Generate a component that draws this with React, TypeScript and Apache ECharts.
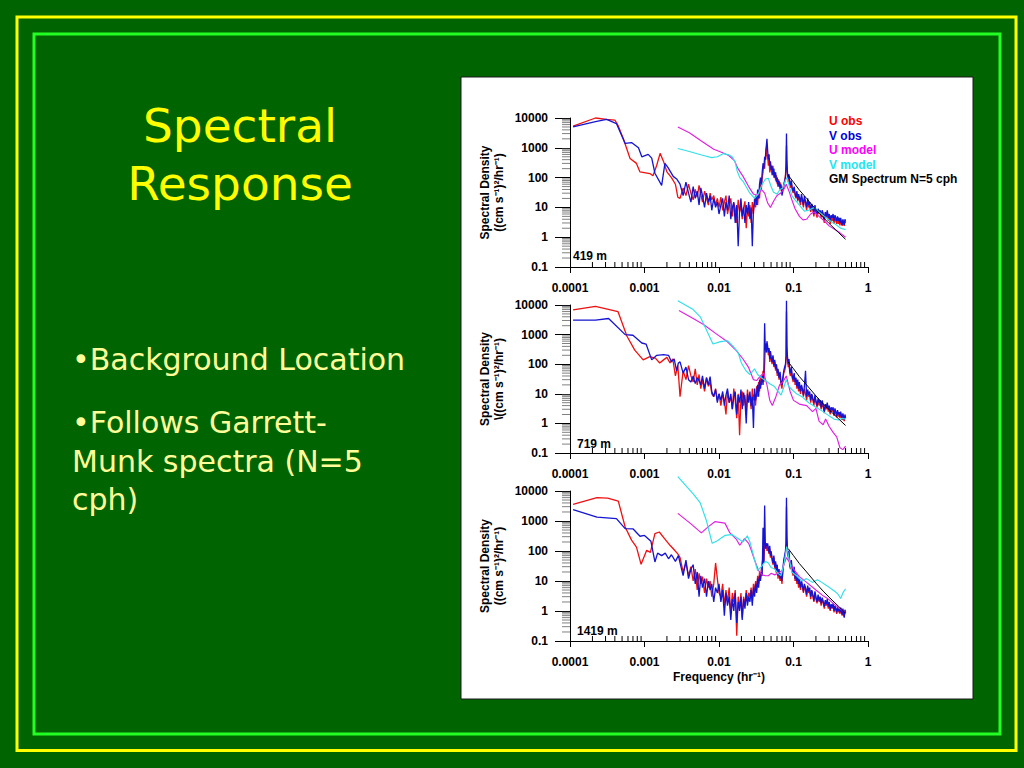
import React, { useEffect, useRef } from "react";
import * as echarts from "echarts";

// ---------- tick labels ----------
const X_TICK_LABELS = ["0.0001", "0.001", "0.01", "0.1", "1"]; // exponents -4..0
const Y_TICK_LABELS = ["0.1", "1", "10", "100", "1000", "10000"]; // exponents -1..4
const MINOR_MANTISSA = [2, 3, 4, 5, 6, 7, 8, 9];
const X_DECADES = [0.0001, 0.001, 0.01, 0.1];
const Y_DECADES = [0.1, 1, 10, 100, 1000];

const DEPTHS = ["419 m", "719 m", "1419 m"];
const NAMES = ["U obs", "V obs", "U model", "V model", "GM Spectrum N=5 cph"];
const COLORS = ["#f01010", "#1414d2", "#e020e0", "#30e0e8", "#000000"];
const LEGEND_COLORS = ["#ff0000", "#0000dd", "#ff00ff", "#22e6f0", "#000000"];

// ---------- frequencies of the dense part of the observed spectra (cph) ----------
const FREQ_HI = [
  0.0030, 0.0033, 0.0036, 0.0039, 0.0042, 0.0045, 0.0048, 0.0051, 0.0054, 0.0057, 0.0060, 0.0064, 0.0068, 0.0072, 0.0076, 0.0080, 0.0085, 0.0090, 0.0095, 0.0100,
  0.0106, 0.0112, 0.0118, 0.0124, 0.0130, 0.0137, 0.0144, 0.0151, 0.0158, 0.0165, 0.0173, 0.0181, 0.0189, 0.0197, 0.0205, 0.0214, 0.0223, 0.0232, 0.0241, 0.0250,
  0.0260, 0.0270, 0.0280, 0.0290, 0.0300, 0.0310, 0.0320, 0.0330, 0.0340, 0.0350, 0.0360, 0.0370, 0.0380, 0.0390, 0.0400, 0.0410, 0.0418, 0.0425, 0.0432, 0.0440,
  0.0450, 0.0460, 0.0470, 0.0480, 0.0490, 0.0500, 0.0515, 0.0530, 0.0545, 0.0560, 0.0575, 0.0590, 0.0605, 0.0620, 0.0640, 0.0660, 0.0680, 0.0700, 0.0720, 0.0740,
  0.0760, 0.0780, 0.0795, 0.0805, 0.0815, 0.0830, 0.0850, 0.0870, 0.0890, 0.0910, 0.0935, 0.0960, 0.0990, 0.1020, 0.1050, 0.1080, 0.1110, 0.1140, 0.1170, 0.1200,
  0.124, 0.128, 0.132, 0.136, 0.140, 0.145, 0.150, 0.155, 0.160, 0.165, 0.170, 0.176, 0.182, 0.188, 0.194, 0.200, 0.207, 0.214, 0.221, 0.228,
  0.235, 0.243, 0.251, 0.259, 0.267, 0.275, 0.284, 0.293, 0.302, 0.311, 0.320, 0.330, 0.340, 0.350, 0.360, 0.370, 0.380, 0.390, 0.400, 0.410,
  0.420, 0.430, 0.440, 0.450, 0.460, 0.470, 0.480, 0.490, 0.500,
];

// ---------- panel 1 (419 m) ----------
const P1_U_LOW = [[1.1e-4, 5300], [2.2e-4, 10000], [3.1e-4, 9000], [4.0e-4, 8500], [4.4e-4, 5700], [5.2e-4, 2000], [6.4e-4, 440], [7.8e-4, 300], [8.7e-4, 155], [1.18e-3, 137], [1.3e-3, 115], [1.46e-3, 260], [1.62e-3, 650], [1.8e-3, 350], [2.0e-3, 155], [2.3e-3, 100], [2.6e-3, 60], [2.8e-3, 22]];
const P1_U_HI = [
  20, 45, 25, 60, 30, 18, 40, 22, 55, 28, 15, 35, 20, 12, 30, 18, 25, 12, 20, 10,
  22, 8, 15, 25, 6, 12, 20, 5, 14, 9, 3, 18, 7, 12, 4, 10, 16, 2, 9, 5,
  12, 3, 15, 6, 20, 10, 25, 12, 35, 20, 60, 40, 100, 150, 300, 200, 500, 400, 1000, 600,
  500, 250, 400, 150, 300, 200, 120, 250, 100, 150, 80, 120, 60, 90, 50, 70, 40, 30, 45, 60,
  80, 120, 300, 1200, 250, 120, 70, 110, 60, 45, 70, 40, 30, 45, 25, 20, 30, 16, 24, 18,
  12, 22, 15, 10, 20, 14, 8, 16, 10, 12, 7, 11, 8, 5, 10, 7, 4.5, 8, 6, 7,
  4.5, 7, 5, 3, 6, 4.5, 7, 3.5, 5, 2.8, 4.5, 3.5, 5, 2.8, 4.5, 3.5, 2.8, 4.5, 2.8, 3.5,
  2.5, 3.8, 2.8, 2.4, 3.6, 2.8, 2.4, 3.4, 3,
];
const P1_V_LOW = [[1.1e-4, 5000], [2.2e-4, 7500], [3.1e-4, 9000], [4.2e-4, 6500], [5.5e-4, 1400], [6.7e-4, 1500], [8.3e-4, 1000], [9.2e-4, 500], [1.12e-3, 600], [1.25e-3, 450], [1.38e-3, 140], [1.7e-3, 55], [1.88e-3, 300], [2.06e-3, 220], [2.43e-3, 110], [2.7e-3, 90]];
const P1_V_HI = [
  60, 25, 70, 30, 15, 50, 20, 35, 12, 45, 25, 10, 30, 15, 25, 8, 20, 10, 15, 6,
  12, 20, 5, 15, 8, 25, 4, 10, 15, 3, 12, 0.5, 8, 20, 5, 10, 3, 12, 6, 15,
  4, 10, 0.5, 8, 15, 25, 12, 40, 20, 60, 100, 50, 150, 300, 200, 500, 400, 800, 1200, 2000,
  800, 400, 600, 250, 350, 180, 250, 120, 200, 100, 150, 70, 100, 50, 80, 40, 60, 25, 35, 50,
  70, 100, 250, 3000, 350, 150, 90, 130, 70, 55, 80, 45, 35, 50, 30, 22, 35, 18, 28, 22,
  15, 28, 18, 12, 24, 16, 10, 20, 12, 15, 8, 13, 10, 6, 12, 8, 5.5, 9, 7, 8,
  5.5, 8, 6, 4, 7, 5, 8, 4.5, 6, 3.5, 5.5, 4.5, 6, 3.5, 5.5, 4.5, 3.5, 5, 3.5, 4.5,
  3, 4.5, 3.2, 2.6, 4, 3.2, 2.6, 4, 3.4,
];
const P1_UM = [[0.0028, 5000], [0.004, 3200], [0.006, 1600], [0.0085, 900], [0.011, 700], [0.0135, 550], [0.016, 380], [0.018, 200], [0.021, 110], [0.025, 50], [0.029, 28], [0.033, 25], [0.037, 40], [0.041, 30], [0.045, 14], [0.049, 10], [0.054, 16], [0.06, 25], [0.067, 30], [0.074, 40], [0.08, 60], [0.087, 35], [0.095, 18], [0.105, 9], [0.12, 5], [0.134, 3.8], [0.15, 4], [0.17, 6], [0.19, 7], [0.22, 5], [0.26, 3.5], [0.3, 2.4], [0.36, 1.8], [0.42, 1.4], [0.5, 1.0]];
const P1_VM = [[0.0028, 950], [0.004, 750], [0.006, 560], [0.008, 470], [0.0095, 500], [0.0115, 640], [0.0135, 580], [0.015, 500], [0.0165, 330], [0.0175, 170], [0.019, 100], [0.021, 75], [0.026, 30], [0.03, 20], [0.034, 30], [0.038, 60], [0.042, 90], [0.046, 95], [0.05, 50], [0.054, 32], [0.06, 28], [0.066, 40], [0.072, 45], [0.078, 80], [0.082, 100], [0.088, 50], [0.095, 25], [0.105, 18], [0.12, 12], [0.14, 7.5], [0.16, 8], [0.19, 10], [0.22, 7], [0.26, 5], [0.3, 3.8], [0.36, 2.8], [0.43, 2.0], [0.5, 1.8]];

// ---------- panel 2 (719 m) ----------
const P2_U_LOW = [[1.1e-4, 6800], [2.2e-4, 9000], [4.4e-4, 6000], [5.8e-4, 900], [7.4e-4, 300], [9.6e-4, 140], [1.18e-3, 180], [1.4e-3, 160], [1.6e-3, 110], [1.8e-3, 140], [2.0e-3, 170], [2.2e-3, 110], [2.4e-3, 150], [2.6e-3, 40], [2.8e-3, 90]];
const P2_U_HI = [
  8, 60, 30, 90, 40, 25, 70, 20, 45, 15, 30, 12, 35, 18, 25, 10, 8, 15, 6, 10,
  4, 10, 6, 2, 12, 5, 8, 3, 15, 6, 1.5, 10, 0.4, 7, 12, 4, 9, 2, 14, 6,
  8, 3, 15, 6, 10, 4, 18, 8, 25, 12, 40, 20, 30, 60, 25, 100, 400, 250, 500, 300,
  350, 200, 300, 120, 250, 150, 100, 180, 80, 120, 60, 90, 40, 60, 30, 45, 20, 15, 30, 50,
  60, 80, 150, 6000, 300, 150, 80, 120, 50, 40, 70, 35, 25, 45, 20, 30, 15, 25, 12, 20,
  10, 18, 12, 8, 15, 10, 6, 12, 8, 10, 5, 9, 6, 4, 8, 5, 3.5, 6, 4, 5,
  3, 5, 3.5, 2.2, 4, 3, 4.5, 2.5, 3.5, 2, 3, 2.5, 3, 1.8, 2.8, 2.2, 1.6, 2.5, 1.7, 2,
  1.5, 2.2, 1.6, 1.3, 2, 1.5, 1.2, 1.8, 1.5,
];
const P2_V_LOW = [[1.1e-4, 3100], [2.2e-4, 3100], [3.3e-4, 3500], [5.5e-4, 1000], [7.0e-4, 950], [9.2e-4, 520], [1.05e-3, 480], [1.25e-3, 140], [1.46e-3, 200], [1.8e-3, 210], [2.1e-3, 200], [2.3e-3, 120], [2.5e-3, 150], [2.7e-3, 60], [2.85e-3, 110]];
const P2_V_HI = [
  120, 50, 80, 30, 25, 40, 22, 35, 28, 20, 40, 15, 35, 20, 38, 12, 8, 14, 5, 10,
  6, 12, 4, 9, 15, 5, 10, 3, 8, 12, 2, 9, 5, 14, 3, 11, 6, 1, 10, 5,
  12, 4, 8, 0.7, 15, 6, 10, 20, 8, 30, 15, 25, 40, 20, 60, 2400, 300, 500, 250, 600,
  400, 250, 350, 150, 280, 180, 120, 200, 90, 140, 70, 100, 50, 70, 35, 55, 25, 20, 35, 60,
  80, 100, 200, 14000, 400, 180, 100, 150, 60, 50, 80, 40, 30, 50, 25, 35, 18, 30, 15, 25,
  12, 20, 14, 9, 18, 60, 8, 14, 9, 12, 6, 10, 7, 5, 9, 6, 4, 7, 5, 6,
  3.5, 6, 4, 2.5, 4.5, 3.5, 5, 3, 4, 2.3, 3.5, 2.8, 3.5, 2, 3.2, 2.5, 1.8, 2.8, 2, 2.4,
  1.7, 2.5, 1.8, 1.4, 2.2, 1.6, 1.3, 2, 1.6,
];
const P2_UM = [[0.0029, 6500], [0.0045, 3500], [0.0062, 2200], [0.009, 1100], [0.0127, 600], [0.0172, 280], [0.021, 150], [0.0248, 80], [0.029, 30], [0.032, 28], [0.036, 40], [0.04, 50], [0.044, 20], [0.048, 6], [0.052, 4], [0.058, 8], [0.065, 20], [0.072, 25], [0.08, 40], [0.09, 12], [0.1, 6], [0.12, 4.5], [0.15, 4], [0.18, 2.5], [0.2, 3.2], [0.22, 1.2], [0.25, 0.9], [0.27, 1.4], [0.3, 0.8], [0.34, 0.5], [0.38, 0.35], [0.42, 0.15], [0.46, 0.13], [0.5, 0.17]];
const P2_VM = [[0.0028, 14000], [0.0045, 7000], [0.0056, 4000], [0.0065, 1800], [0.0083, 480], [0.0105, 580], [0.013, 620], [0.0155, 400], [0.018, 250], [0.02, 110], [0.023, 60], [0.026, 45], [0.03, 70], [0.033, 45], [0.037, 35], [0.042, 28], [0.048, 22], [0.055, 18], [0.062, 12], [0.068, 9], [0.075, 18], [0.08, 30], [0.086, 18], [0.095, 14], [0.11, 10], [0.13, 8], [0.16, 5], [0.2, 3.5], [0.25, 2.5], [0.3, 1.8], [0.35, 1.4], [0.4, 1.3], [0.45, 1.5], [0.5, 1.4]];

// ---------- panel 3 (1419 m) ----------
const P3_U_LOW = [[1.1e-4, 3600], [2.3e-4, 6000], [3.2e-4, 5800], [4.45e-4, 4600], [5.5e-4, 630], [6.7e-4, 230], [7.8e-4, 135], [9.0e-4, 36], [1.07e-3, 105], [1.2e-3, 90], [1.38e-3, 380], [1.58e-3, 430], [1.88e-3, 250], [2.2e-3, 155], [2.5e-3, 110], [2.8e-3, 80]];
const P3_U_HI = [
  60, 20, 40, 15, 30, 10, 25, 5, 18, 8, 14, 4, 12, 6, 10, 3, 8, 40, 12, 4,
  3, 8, 1.5, 5, 2, 6, 0.8, 4, 2, 5, 0.15, 3, 1.2, 4, 0.6, 3, 1.5, 5, 2, 4,
  3, 6, 2, 8, 4, 10, 5, 15, 8, 20, 12, 25, 40, 60, 40, 200, 150, 120, 180, 100,
  150, 100, 80, 120, 60, 90, 50, 35, 60, 25, 40, 18, 30, 12, 20, 10, 15, 8, 20, 40,
  60, 80, 150, 3000, 200, 100, 60, 80, 30, 25, 40, 20, 15, 25, 10, 15, 8, 12, 6, 10,
  5, 9, 6, 4, 7, 5, 3, 6, 4, 5, 2.5, 4.5, 3, 2, 4, 2.5, 1.8, 3, 2, 2.5,
  1.5, 2.5, 1.8, 1.2, 2, 1.5, 2.2, 1.2, 1.8, 1, 1.5, 1.2, 1.6, 0.9, 1.4, 1.1, 0.8, 1.3, 0.9, 1.1,
  0.8, 1.2, 0.9, 0.7, 1.1, 0.8, 0.65, 1.0, 0.85,
];
const P3_V_LOW = [[1.1e-4, 2400], [2.3e-4, 1350], [4.2e-4, 1200], [5.5e-4, 560], [7.0e-4, 550], [8.7e-4, 310], [1.0e-3, 330], [1.22e-3, 210], [1.38e-3, 43], [1.5e-3, 85], [1.7e-3, 70], [1.9e-3, 85], [2.1e-3, 55], [2.3e-3, 75], [2.6e-3, 45], [2.85e-3, 70]];
const P3_V_HI = [
  40, 15, 50, 12, 25, 35, 8, 20, 3, 15, 6, 12, 3, 10, 5, 8, 2, 6, 4, 8,
  2, 5, 0.7, 4, 1.5, 3, 0.5, 2.5, 1, 4, 0.4, 2, 1, 3, 0.5, 2.5, 1.2, 4, 1.5, 3,
  2, 5, 1.5, 6, 3, 8, 4, 12, 6, 15, 10, 20, 15, 600, 40, 3300, 200, 120, 180, 150,
  180, 120, 90, 150, 70, 100, 60, 40, 70, 30, 45, 20, 35, 15, 25, 12, 18, 10, 25, 50,
  70, 100, 200, 6000, 300, 120, 70, 100, 40, 30, 50, 25, 18, 30, 12, 18, 10, 15, 8, 12,
  6, 10, 7, 4.5, 8, 6, 3.5, 7, 4.5, 6, 3, 5, 3.5, 2.2, 4.5, 3, 2, 3.5, 2.2, 3,
  1.8, 2.8, 2, 1.4, 2.3, 1.7, 2.5, 1.4, 2, 1.1, 1.7, 1.3, 1.8, 1, 1.5, 1.2, 0.9, 1.4, 1, 1.2,
  0.9, 1.3, 1, 0.75, 1.2, 0.85, 0.6, 1.1, 0.9,
];
const P3_UM = [[0.0028, 1800], [0.0042, 800], [0.0058, 400], [0.0072, 650], [0.0088, 950], [0.012, 850], [0.014, 400], [0.017, 250], [0.019, 155], [0.022, 260], [0.025, 180], [0.027, 110], [0.03, 50], [0.034, 22], [0.038, 16], [0.042, 15], [0.046, 15], [0.05, 18], [0.056, 16], [0.062, 18], [0.07, 22], [0.08, 60], [0.09, 40], [0.1, 25], [0.12, 14], [0.15, 9], [0.2, 5], [0.25, 3.2], [0.3, 2.4], [0.36, 1.6], [0.42, 1.2], [0.5, 0.9]];
const P3_VM = [[0.0028, 30000], [0.0045, 8000], [0.0056, 4000], [0.0068, 1000], [0.0081, 180], [0.0095, 220], [0.012, 330], [0.015, 350], [0.018, 260], [0.021, 200], [0.024, 320], [0.026, 200], [0.029, 70], [0.033, 22], [0.037, 30], [0.042, 45], [0.046, 40], [0.05, 28], [0.056, 25], [0.062, 18], [0.068, 15], [0.075, 40], [0.081, 140], [0.088, 50], [0.095, 20], [0.11, 15], [0.13, 10], [0.15, 12], [0.18, 9], [0.21, 11], [0.24, 9], [0.28, 7], [0.32, 5.5], [0.36, 4.5], [0.4, 3.5], [0.43, 2.6], [0.46, 4], [0.5, 5.5]];

// ---------- Garrett-Munk spectrum, N = 5 cph ----------
const GM_F = [0.085, 0.1, 0.12, 0.15, 0.2, 0.25, 0.3, 0.4, 0.5];
const GM_V = [120, 70, 38, 20, 8.5, 4.6, 2.9, 1.45, 0.85];

const PANELS = [
  { uLow: P1_U_LOW, uHi: P1_U_HI, vLow: P1_V_LOW, vHi: P1_V_HI, um: P1_UM, vm: P1_VM },
  { uLow: P2_U_LOW, uHi: P2_U_HI, vLow: P2_V_LOW, vHi: P2_V_HI, um: P2_UM, vm: P2_VM },
  { uLow: P3_U_LOW, uHi: P3_U_HI, vLow: P3_V_LOW, vHi: P3_V_HI, um: P3_UM, vm: P3_VM },
];

// layout (pixels)
const GRID_BOXES = [
  { left: 570, top: 118, width: 298, height: 149 },
  { left: 570, top: 305, width: 298, height: 148 },
  { left: 570, top: 491, width: 298, height: 150 },
];
const Y_NAMES = [
  "Spectral Density\n((cm s⁻¹)²/hr⁻¹)",
  "Spectral Density\n\\((cm s⁻¹)²/hr⁻¹)",
  "Spectral Density\n((cm s⁻¹)²/hr⁻¹)",
];

const FONT = '"Liberation Sans", Arial, Helvetica, sans-serif';
const SLIDE_FONT = '"DejaVu Sans", "Noto Sans", sans-serif';

const joinHi = (low: number[][], hi: number[]) =>
  low.concat(FREQ_HI.map((f, i) => [f, hi[i]]).filter((p) => p[1] !== undefined));

function buildOption() {
  const grid: any[] = [];
  const xAxis: any[] = [];
  const yAxis: any[] = [];
  const series: any[] = [];

  const xMinor: number[] = [];
  X_DECADES.forEach((d) => MINOR_MANTISSA.forEach((m) => xMinor.push(d * m)));
  const yMinor: number[] = [];
  Y_DECADES.forEach((d) => MINOR_MANTISSA.forEach((m) => yMinor.push(d * m)));

  GRID_BOXES.forEach((b, i) => {
    grid.push({ ...b, containLabel: false });
    xAxis.push({
      type: "log",
      logBase: 10,
      gridIndex: i,
      min: 0.0001,
      max: 1,
      splitNumber: 4,
      axisLine: { show: true, onZero: false, lineStyle: { color: "#000", width: 1 } },
      axisTick: { show: true, length: 6, lineStyle: { color: "#000", width: 1 } },
      axisLabel: {
        color: "#000",
        fontWeight: "bold",
        fontSize: 12,
        fontFamily: FONT,
        margin: 15,
        formatter: (v: number) => X_TICK_LABELS[Math.round(Math.log10(v)) + 4] ?? "",
      },
      splitLine: { show: false },
      name: i === 2 ? "Frequency (hr⁻¹)" : "",
      nameLocation: "middle",
      nameGap: 30,
      nameTextStyle: { color: "#000", fontWeight: "bold", fontSize: 12, fontFamily: FONT },
    });
    yAxis.push({
      type: "log",
      logBase: 10,
      gridIndex: i,
      min: 0.1,
      max: 10000,
      splitNumber: 5,
      axisLine: { show: true, onZero: false, lineStyle: { color: "#000", width: 1 } },
      axisTick: { show: true, length: 15, lineStyle: { color: "#000", width: 1 } },
      axisLabel: {
        color: "#000",
        fontWeight: "bold",
        fontSize: 12,
        fontFamily: FONT,
        margin: 22,
        formatter: (v: number) => Y_TICK_LABELS[Math.round(Math.log10(v)) + 1] ?? "",
      },
      splitLine: { show: false },
      name: Y_NAMES[i],
      nameLocation: "middle",
      nameGap: 64,
      nameRotate: 90,
      nameTextStyle: { color: "#000", fontWeight: "bold", fontSize: 12, lineHeight: 14, fontFamily: FONT },
    });

    const p = PANELS[i];
    const lines = [
      joinHi(p.uLow, p.uHi),
      joinHi(p.vLow, p.vHi),
      p.um,
      p.vm,
      GM_F.map((f, k) => [f, GM_V[k]]),
    ];
    lines.forEach((data, k) => {
      series.push({
        type: "line",
        name: NAMES[k],
        xAxisIndex: i,
        yAxisIndex: i,
        data,
        showSymbol: false,
        symbol: "none",
        clip: false,
        silent: true,
        z: 3 + k,
        lineStyle: { color: COLORS[k], width: k < 2 ? 1.3 : k < 4 ? 1.15 : 1 },
        itemStyle: { color: COLORS[k] },
      });
    });

    // minor ticks on the log axes
    series.push({
      type: "custom",
      xAxisIndex: i,
      yAxisIndex: i,
      silent: true,
      z: 10,
      data: xMinor.map((v) => [v, 0.1]),
      renderItem: (_: any, api: any) => {
        const c = api.coord([api.value(0), api.value(1)]);
        return { type: "line", shape: { x1: c[0], y1: c[1], x2: c[0], y2: c[1] - 5 }, style: { stroke: "#000", lineWidth: 1 } };
      },
    });
    series.push({
      type: "custom",
      xAxisIndex: i,
      yAxisIndex: i,
      silent: true,
      z: 10,
      data: yMinor.map((v) => [0.0001, v]),
      renderItem: (_: any, api: any) => {
        const c = api.coord([api.value(0), api.value(1)]);
        return { type: "line", shape: { x1: c[0] - 8, y1: c[1], x2: c[0], y2: c[1] }, style: { stroke: "#808080", lineWidth: 1 } };
      },
    });
  });

  const depthPos = [
    { x: 573, y: 256 },
    { x: 577, y: 444 },
    { x: 577, y: 631 },
  ];

  const graphic: any[] = [
    { type: "rect", z: -20, shape: { x: 17, y: 17, width: 999, height: 733.5 }, style: { fill: "none", stroke: "#ffff00", lineWidth: 3 } },
    { type: "rect", z: -20, shape: { x: 34, y: 34, width: 966, height: 700 }, style: { fill: "none", stroke: "#22ff22", lineWidth: 3 } },
    { type: "rect", z: -20, shape: { x: 461, y: 77, width: 512, height: 622 }, style: { fill: "#ffffff", stroke: "#1a1a1a", lineWidth: 1 } },
    { type: "text", z: 5, style: { text: "Spectral", x: 240, y: 125, align: "center", verticalAlign: "middle", fill: "#ffff00", font: `47px ${SLIDE_FONT}` } },
    { type: "text", z: 5, style: { text: "Response", x: 240, y: 183, align: "center", verticalAlign: "middle", fill: "#ffff00", font: `47px ${SLIDE_FONT}` } },
    { type: "text", z: 5, style: { text: "•Background Location", x: 72, y: 359, align: "left", verticalAlign: "middle", fill: "#ffff99", font: `30px ${SLIDE_FONT}` } },
    { type: "text", z: 5, style: { text: "•Follows Garrett-", x: 72, y: 422, align: "left", verticalAlign: "middle", fill: "#ffff99", font: `30px ${SLIDE_FONT}` } },
    { type: "text", z: 5, style: { text: "Munk spectra (N=5", x: 72, y: 461, align: "left", verticalAlign: "middle", fill: "#ffff99", font: `30px ${SLIDE_FONT}` } },
    { type: "text", z: 5, style: { text: "cph)", x: 72, y: 499, align: "left", verticalAlign: "middle", fill: "#ffff99", font: `30px ${SLIDE_FONT}` } },
  ];
  DEPTHS.forEach((d, i) => {
    graphic.push({
      type: "text",
      z: 20,
      style: { text: d, x: depthPos[i].x, y: depthPos[i].y, align: "left", verticalAlign: "middle", fill: "#000", font: `bold 12px ${FONT}` },
    });
  });

  return {
    animation: false,
    backgroundColor: "#006400",
    grid,
    xAxis,
    yAxis,
    series,
    graphic,
    legend: {
      show: true,
      orient: "vertical",
      left: 824,
      top: 114,
      padding: 0,
      itemWidth: 0,
      itemHeight: 14,
      itemGap: 0.6,
      selectedMode: false,
      data: NAMES.map((n, k) => ({
        name: n,
        icon: "rect",
        textStyle: { color: LEGEND_COLORS[k], fontWeight: "bold", fontSize: 12, fontFamily: FONT },
      })),
      textStyle: { fontWeight: "bold", fontSize: 12, fontFamily: FONT },
    },
  };
}

export default function App() {
  const ref = useRef<HTMLDivElement>(null);
  useEffect(() => {
    if (!ref.current) return;
    const chart = echarts.init(ref.current, undefined, { renderer: "svg" });
    chart.setOption(buildOption() as any);
    return () => chart.dispose();
  }, []);
  return <div ref={ref} style={{ position: "absolute", left: 0, top: 0, width: 1024, height: 768 }} />;
}
